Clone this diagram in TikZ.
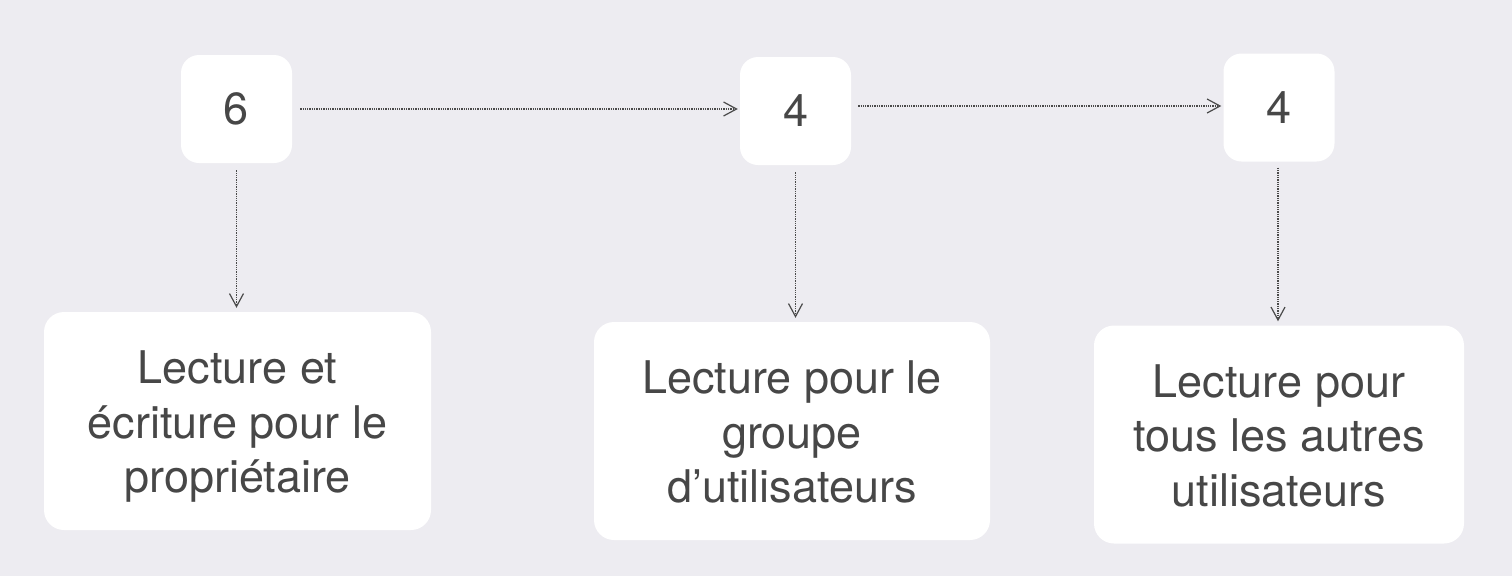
\documentclass[tikz,border=0pt]{standalone}
\usepackage{fontspec}
\setmainfont{TeX Gyre Heros}
\usetikzlibrary{arrows.meta}
\definecolor{bgc}{HTML}{EDECF1}
\definecolor{txt}{HTML}{474747}
\definecolor{lnc}{HTML}{4A4A4A}
\newcommand{\topst}{\rule{0pt}{44pt}}
\newcommand{\botst}{\rule[-10pt]{0pt}{10pt}}
\tikzset{
  numbox/.style={fill=white, rounded corners=18pt, minimum width=111pt, minimum height=108pt,
    inner sep=0pt, text=txt, font=\fontsize{45}{54.5}\selectfont},
  labbox/.style={fill=white, rounded corners=20pt, minimum height=218pt,
    inner sep=0pt, text=txt, align=center, font=\fontsize{45}{54.5}\selectfont},
  link/.style={draw=lnc, line width=1.1pt, dash pattern=on 1.3pt off 1pt,
    -{Straight Barb[length=13pt,width=14pt,line width=1.2pt]}}
}
\begin{document}
\begin{tikzpicture}[x=1pt,y=-1pt]
\fill[bgc] (0,0) rectangle (1512,576);
\useasboundingbox (0,0) rectangle (1512,576);
\node[numbox] (s1) at (236.5,109) {6};
\node[numbox] (s2) at (795.5,111) {4};
\node[numbox] (s3) at (1279,107.5) {4};
\node[labbox, minimum width=387pt] (l1) at (237.5,421) {\topst Lecture et\\écriture pour le\\propriétaire\botst};
\node[labbox, minimum width=396pt] (l2) at (792,431) {\topst Lecture pour le\\groupe\\d’utilisateurs\botst};
\node[labbox, minimum width=370pt] (l3) at (1279,434.5) {\topst Lecture pour\\tous les autres\\utilisateurs\botst};
\draw[link, shorten <=8pt, shorten >=2pt] (s1.east) -- (s1.east -| s2.west);
\draw[link, shorten <=7pt, shorten >=2pt] ([yshift=5pt]s2.east) -- ([yshift=5pt]s2.east -| s3.west);
\draw[link, shorten <=7pt, shorten >=4pt] (s1.south) -- (s1.south |- l1.north);
\draw[link, shorten <=7pt, shorten >=4pt] (s2.south) -- (s2.south |- l2.north);
\draw[link, shorten <=6pt, shorten >=4pt] ([xshift=-1pt]s3.south) -- ([xshift=-1pt]s3.south |- l3.north);
\end{tikzpicture}
\end{document}
